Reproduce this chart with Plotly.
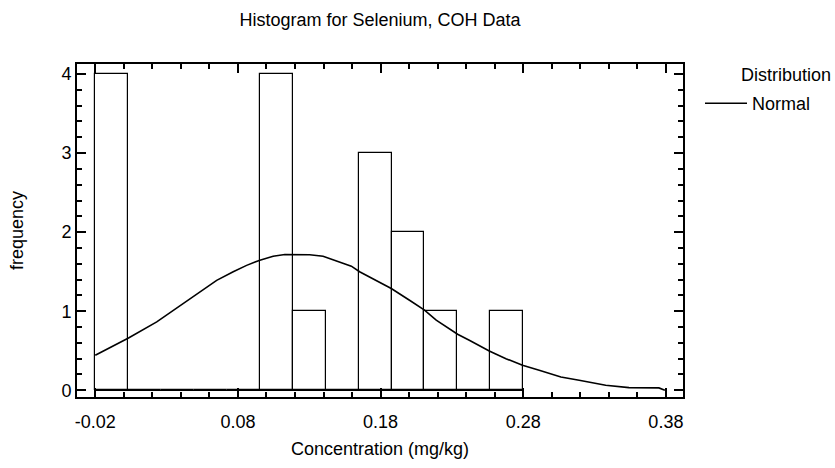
import plotly.graph_objects as go

# ---- data ----
bin_edges = [-0.02, 0.00308, 0.02615, 0.04923, 0.07231, 0.09538, 0.11846,
             0.14154, 0.16462, 0.18769, 0.21077, 0.23385, 0.25692, 0.28]
counts = [4, 0, 0, 0, 0, 4, 1, 0, 3, 2, 1, 0, 1]

normal_x = [-0.02, -0.0095, 0.0033, 0.0231, 0.0418, 0.0534, 0.0604, 0.0651, 0.0767,
            0.0861, 0.0954, 0.1047, 0.1129, 0.1234, 0.1303, 0.1397, 0.149, 0.1595,
            0.1653, 0.177, 0.1875, 0.2003, 0.2108, 0.219, 0.234, 0.2422, 0.2562,
            0.2679, 0.2795, 0.2912, 0.3064, 0.3192, 0.3378, 0.3541, 0.3751, 0.3793]
normal_y = [0.443, 0.54, 0.662, 0.865, 1.10, 1.25, 1.33, 1.39, 1.50,
            1.58, 1.646, 1.696, 1.717, 1.72, 1.715, 1.696, 1.637, 1.57,
            1.50, 1.39, 1.287, 1.139, 1.013, 0.886, 0.709, 0.633, 0.498,
            0.40, 0.316, 0.253, 0.169, 0.127, 0.063, 0.034, 0.030, 0.0]

x_tickvals = [-0.02, 0.08, 0.18, 0.28, 0.38]
x_ticktext = ["-0.02", "0.08", "0.18", "0.28", "0.38"]
y_tickvals = [0, 1, 2, 3, 4]
y_ticktext = ["0", "1", "2", "3", "4"]

title_text = "Histogram for Selenium, COH Data"
x_title = "Concentration (mg/kg)"
y_title = "frequency"
legend_title = "Distribution"
series_name = "Normal"

# ---- derived ----
centers = [(a + b) / 2 for a, b in zip(bin_edges[:-1], bin_edges[1:])]
widths = [b - a for a, b in zip(bin_edges[:-1], bin_edges[1:])]

FONT = "Liberation Sans, Arial, Helvetica, sans-serif"
FS = 18

fig = go.Figure()
fig.add_trace(go.Bar(
    x=centers, y=counts, width=widths,
    marker=dict(color="white", line=dict(color="black", width=1.2)),
    showlegend=False, hoverinfo="skip"))
fig.add_trace(go.Scatter(
    x=[bin_edges[0], bin_edges[-1]], y=[0, 0], mode="lines",
    line=dict(color="black", width=1.2), showlegend=False, hoverinfo="skip"))
fig.add_trace(go.Scatter(
    x=normal_x, y=normal_y, mode="lines", name=series_name,
    line=dict(color="black", width=1.6)))

axis_common = dict(
    showline=True, linecolor="black", linewidth=2, mirror="allticks",
    ticks="inside", ticklen=9, tickwidth=2, tickcolor="black",
    showgrid=False, zeroline=False,
    tickfont=dict(family=FONT, size=FS, color="black"),
)

fig.update_xaxes(
    **axis_common,
    range=[-0.0328, 0.392],
    tickmode="array", tickvals=x_tickvals, ticktext=x_ticktext,
    minor=dict(tickmode="linear", tick0=-0.02, dtick=0.02, ticks="inside",
               ticklen=5, tickwidth=1.5, tickcolor="black", showgrid=False),
    ticklabelstandoff=7,
    title=dict(text=x_title, font=dict(family=FONT, size=FS, color="black"), standoff=12),
)
fig.update_yaxes(
    **axis_common,
    range=[-0.085, 4.127],
    tickmode="array", tickvals=y_tickvals, ticktext=y_ticktext,
    minor=dict(tickmode="linear", tick0=0, dtick=0.2, ticks="inside",
               ticklen=5, tickwidth=1.5, tickcolor="black", showgrid=False),
    ticklabelstandoff=0,
    title=dict(text=y_title, font=dict(family=FONT, size=FS, color="black"), standoff=33),
)

fig.update_layout(
    width=835, height=468,
    margin=dict(l=77, r=152, t=64, b=71),
    paper_bgcolor="white", plot_bgcolor="white",
    bargap=0,
    title=dict(text=title_text, x=0.5, xref="paper", xanchor="center",
               y=1 - 20 / 468, yanchor="middle",
               font=dict(family=FONT, size=FS, color="black")),
    legend=dict(x=(700 - 77) / 606, xanchor="left", y=0.937, yanchor="top",
                itemwidth=42,
                font=dict(family=FONT, size=FS, color="black"),
                bgcolor="rgba(0,0,0,0)", borderwidth=0),
    annotations=[dict(text=legend_title, xref="paper", yref="paper",
                      x=(786 - 77) / 606, y=0.967, xanchor="center", yanchor="middle",
                      showarrow=False,
                      font=dict(family=FONT, size=FS, color="black"))],
)

fig.write_html("out.html",
               config={"displayModeBar": False},
               post_script="document.body.style.margin='0';document.body.style.overflow='hidden';")
